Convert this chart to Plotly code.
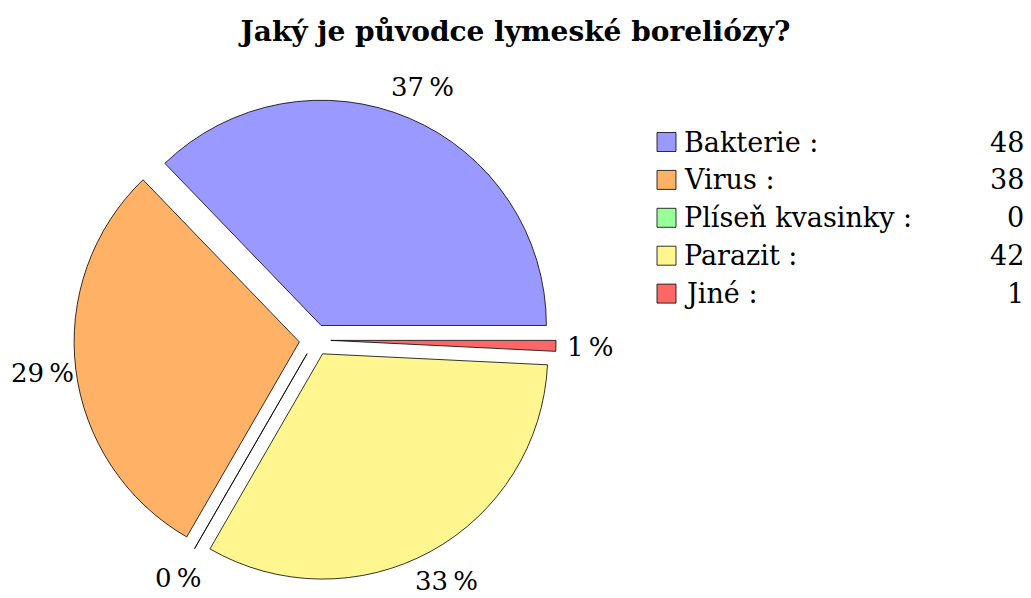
import math
import plotly.graph_objects as go

title = "Jaký je původce lymeské boreliózy?"
categories = ["Bakterie", "Virus", "Plíseň kvasinky", "Parazit", "Jiné"]
values = [48, 38, 0, 42, 1]
colors = ["#9999ff", "#ffb266", "#99ff99", "#fff68f", "#ff6666"]

W, H = 1031, 598
FONT = "DejaVu Serif"
total = sum(values)
pct_text = [f"{round(v / total * 100)}\u202f%" for v in values]

def px(x):
    return x / W

def py(y):
    return 1 - y / H

# pie box (pixels)
DOM_X = (74, 556)
DOM_Y = (99, 581)
PULL = 0.07
cx_px = (DOM_X[0] + DOM_X[1]) / 2
cy_px = (DOM_Y[0] + DOM_Y[1]) / 2
radius_px = (DOM_X[1] - DOM_X[0]) / 2 / (1 + PULL)
LABEL_R = 1.22

# first slice starts at 3 o'clock and slices run counterclockwise
start_rotation = 90 - 360 * values[0] / total

fig = go.Figure()
fig.add_trace(go.Pie(
    labels=categories,
    values=values,
    textinfo="none",
    automargin=False,
    sort=False,
    direction="counterclockwise",
    rotation=start_rotation,
    pull=[PULL] * len(values),
    marker=dict(colors=colors, line=dict(color="black", width=0.8)),
    domain=dict(x=[px(DOM_X[0]), px(DOM_X[1])], y=[py(DOM_Y[1]), py(DOM_Y[0])]),
    showlegend=False,
    hoverinfo="label+value+percent",
))

annotations = []
# percentage labels along each slice's bisector
cum = 0
for v, t in zip(values, pct_text):
    mid = (cum + v / 2) / total * 2 * math.pi
    cum += v
    lx = cx_px + LABEL_R * radius_px * math.cos(mid)
    ly = cy_px - LABEL_R * radius_px * math.sin(mid)
    annotations.append(dict(xref="paper", yref="paper", x=px(lx), y=py(ly),
                            text=t, showarrow=False, xanchor="center", yanchor="middle",
                            font=dict(family=FONT, size=26, color="black")))

shapes = []
row0, gap = 142, 37.9
for i, (c, v, col) in enumerate(zip(categories, values, colors)):
    yc = row0 + i * gap
    shapes.append(dict(type="rect", xref="paper", yref="paper",
                       x0=px(657), x1=px(676), y0=py(yc + 9.5), y1=py(yc - 9.5),
                       fillcolor=col, line=dict(color="black", width=0.8)))
    annotations.append(dict(xref="paper", yref="paper", x=px(682), y=py(yc),
                            text=f"{c} :", showarrow=False, xanchor="left", yanchor="middle",
                            font=dict(family=FONT, size=27, color="black")))
    annotations.append(dict(xref="paper", yref="paper", x=px(1026), y=py(yc),
                            text=str(v), showarrow=False, xanchor="right", yanchor="middle",
                            font=dict(family=FONT, size=27, color="black")))

fig.update_layout(
    width=W, height=H,
    margin=dict(l=0, r=0, t=0, b=0, autoexpand=False),
    paper_bgcolor="white",
    plot_bgcolor="white",
    title=dict(text=f"<b>{title}</b>", x=0.5, xanchor="center", y=py(31), yanchor="middle",
               font=dict(family=FONT, size=28, color="black")),
    shapes=shapes,
    annotations=annotations,
)

fig.write_html("out.html", config={"displayModeBar": False},
               post_script="document.body.style.margin='0';")
